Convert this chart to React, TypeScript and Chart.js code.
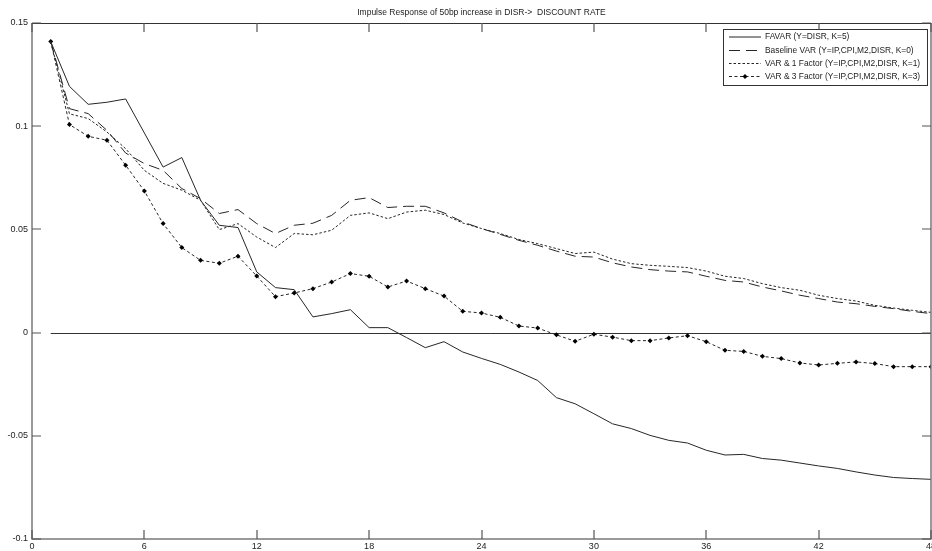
import React, { useEffect, useRef } from "react";
import { Chart, registerables } from "chart.js";

Chart.register(...registerables);

const TITLE = "Impulse Response of 50bp increase in DISR->  DISCOUNT RATE";

const months = [
  1, 2, 3, 4, 5, 6, 7, 8, 9, 10, 11, 12, 13, 14, 15, 16, 17, 18, 19, 20, 21, 22, 23, 24,
  25, 26, 27, 28, 29, 30, 31, 32, 33, 34, 35, 36, 37, 38, 39, 40, 41, 42, 43, 44, 45, 46, 47, 48,
];

const favar = [
  0.141, 0.1193, 0.1106, 0.1116, 0.1132, 0.0967, 0.0802, 0.0848, 0.0641, 0.052,
  0.0509, 0.0294, 0.0218, 0.0208, 0.0076, 0.0092, 0.0111, 0.0024, 0.0024, -0.0024,
  -0.0073, -0.0044, -0.0094, -0.0125, -0.0154, -0.0191, -0.0232, -0.0315, -0.0345, -0.0393,
  -0.0442, -0.0465, -0.0498, -0.0522, -0.0535, -0.057, -0.0593, -0.059, -0.061, -0.0618,
  -0.0632, -0.0646, -0.0658, -0.0675, -0.069, -0.0702, -0.0707, -0.0711,
];

const baselineVar = [
  0.141, 0.1085, 0.1061, 0.098, 0.087, 0.0819, 0.0786, 0.0698, 0.0649, 0.0577,
  0.0596, 0.0528, 0.048, 0.052, 0.053, 0.0568, 0.0641, 0.0654, 0.0606, 0.0612,
  0.0612, 0.058, 0.0536, 0.0504, 0.0476, 0.0447, 0.0423, 0.0395, 0.037, 0.0366,
  0.0338, 0.0318, 0.0305, 0.0298, 0.0294, 0.0273, 0.0253, 0.0245, 0.0221, 0.0202,
  0.0181, 0.0165, 0.0148, 0.014, 0.0127, 0.0116, 0.0103, 0.0092,
];

const var1Factor = [
  0.141, 0.106, 0.1037, 0.0972, 0.0891, 0.0786, 0.0723, 0.069, 0.0641, 0.0499,
  0.0528, 0.0463, 0.0412, 0.048, 0.0474, 0.0496, 0.0568, 0.058, 0.0552, 0.0584,
  0.0593, 0.0572, 0.0531, 0.0504, 0.048, 0.0451, 0.0431, 0.0407, 0.0383, 0.039,
  0.0356, 0.0334, 0.0326, 0.0321, 0.0315, 0.0298, 0.0273, 0.0262, 0.0237, 0.0218,
  0.0205, 0.0181, 0.0165, 0.0153, 0.0132, 0.0119, 0.0108, 0.0098,
];

const var3Factor = [
  0.141, 0.1008, 0.0951, 0.0932, 0.0811, 0.0686, 0.0528, 0.0412, 0.035, 0.0336,
  0.037, 0.0274, 0.0174, 0.0192, 0.0213, 0.0245, 0.0286, 0.0273, 0.0221, 0.025,
  0.0213, 0.0177, 0.0103, 0.0095, 0.0074, 0.0032, 0.0022, -0.0011, -0.0042, -0.0008,
  -0.0022, -0.0039, -0.0039, -0.0026, -0.0015, -0.0044, -0.0086, -0.0091, -0.0115, -0.0126,
  -0.0147, -0.0157, -0.0149, -0.0142, -0.015, -0.0165, -0.0165, -0.0165,
];

const seriesLabels = [
  "FAVAR (Y=DISR, K=5)",
  "Baseline VAR (Y=IP,CPI,M2,DISR, K=0)",
  "VAR & 1 Factor (Y=IP,CPI,M2,DISR, K=1)",
  "VAR & 3 Factor (Y=IP,CPI,M2,DISR, K=3)",
];

const xTickValues = [0, 6, 12, 18, 24, 30, 36, 42, 48];
const yTickValues = [-0.1, -0.05, 0, 0.05, 0.1, 0.15];
const zeroLineStart = 1;

const FONT = "'Liberation Sans', Arial, sans-serif";
const LINE = "#262626";

const framePlugin = {
  id: "frame",
  beforeDatasetsDraw(chart: any) {
    const { ctx, chartArea: a, scales } = chart;
    const x = scales.x;
    const y = scales.y;
    ctx.save();
    ctx.strokeStyle = "#333";
    ctx.lineWidth = 1;
    ctx.beginPath();
    const y0 = Math.round(y.getPixelForValue(0)) + 0.5;
    ctx.moveTo(x.getPixelForValue(zeroLineStart), y0);
    ctx.lineTo(a.right, y0);
    ctx.stroke();
    ctx.restore();
  },
  afterDatasetsDraw(chart: any) {
    const { ctx, chartArea: a, scales } = chart;
    const x = scales.x;
    const y = scales.y;
    const tl = 9;
    ctx.save();
    ctx.lineWidth = 1.5;
    ctx.strokeStyle = "#7a7a7a";
    ctx.beginPath();
    ctx.moveTo(a.left, a.top);
    ctx.lineTo(a.left, a.bottom);
    ctx.lineTo(a.right, a.bottom);
    ctx.lineTo(a.right, a.top);
    ctx.stroke();
    ctx.lineWidth = 1;
    ctx.strokeStyle = "#333";
    ctx.beginPath();
    ctx.moveTo(a.left, a.top + 0.5);
    ctx.lineTo(a.right, a.top + 0.5);
    ctx.stroke();
    ctx.strokeStyle = "#555";
    ctx.lineWidth = 1.2;
    ctx.beginPath();
    xTickValues.forEach((v) => {
      const px = Math.round(x.getPixelForValue(v));
      ctx.moveTo(px, a.bottom);
      ctx.lineTo(px, a.bottom - tl);
      ctx.moveTo(px, a.top);
      ctx.lineTo(px, a.top + tl);
    });
    yTickValues.forEach((v) => {
      const py = Math.round(y.getPixelForValue(v));
      ctx.moveTo(a.left, py);
      ctx.lineTo(a.left + tl, py);
      ctx.moveTo(a.right, py);
      ctx.lineTo(a.right - tl, py);
    });
    ctx.stroke();
    ctx.restore();
  },
};

const legendPlugin = {
  id: "boxLegend",
  afterDraw(chart: any) {
    const { ctx } = chart;
    const bx = 723;
    const by = 29;
    const bw = 204;
    const bh = 56;
    ctx.save();
    ctx.fillStyle = "#fff";
    ctx.fillRect(bx, by, bw, bh);
    ctx.strokeStyle = "#333";
    ctx.lineWidth = 1;
    ctx.strokeRect(bx + 0.5, by + 0.5, bw, bh);
    ctx.font = `8.4px ${FONT}`;
    ctx.textBaseline = "middle";
    ctx.textAlign = "left";
    const rows = [37, 50.5, 63.5, 76.5];
    chart.data.datasets.forEach((ds: any, i: number) => {
      const ry = rows[i];
      ctx.strokeStyle = ds.borderColor;
      ctx.lineWidth = ds.borderWidth;
      ctx.setLineDash(ds.borderDash || []);
      ctx.beginPath();
      ctx.moveTo(729, ry);
      ctx.lineTo(761, ry);
      ctx.stroke();
      ctx.setLineDash([]);
      if (ds.pointRadius > 0) {
        ctx.fillStyle = "#000";
        ctx.beginPath();
        ctx.moveTo(745, ry - 2.5);
        ctx.lineTo(747.5, ry);
        ctx.lineTo(745, ry + 2.5);
        ctx.lineTo(742.5, ry);
        ctx.closePath();
        ctx.fill();
      }
      ctx.fillStyle = "#222";
      ctx.fillText(ds.label, 765, ry);
    });
    ctx.restore();
  },
};

const toPoints = (vals: number[]) => months.map((m, i) => ({ x: m, y: vals[i] }));

export default function App() {
  const ref = useRef<HTMLCanvasElement | null>(null);
  useEffect(() => {
    document.body.style.margin = "0";
    const canvas = ref.current!;
    const chart = new Chart(canvas, {
      type: "line",
      data: {
        datasets: [
          {
            label: seriesLabels[0],
            data: toPoints(favar),
            borderColor: LINE,
            borderWidth: 1,
            pointRadius: 0,
            tension: 0,
          },
          {
            label: seriesLabels[1],
            data: toPoints(baselineVar),
            borderColor: LINE,
            borderWidth: 1,
            borderDash: [11, 6],
            pointRadius: 0,
            tension: 0,
          },
          {
            label: seriesLabels[2],
            data: toPoints(var1Factor),
            borderColor: LINE,
            borderWidth: 1,
            borderDash: [2.5, 2],
            pointRadius: 0,
            tension: 0,
          },
          {
            label: seriesLabels[3],
            data: toPoints(var3Factor),
            borderColor: LINE,
            borderWidth: 1,
            borderDash: [3, 2.5],
            pointRadius: 2.5,
            pointStyle: "rectRot",
            pointBackgroundColor: "#000",
            pointBorderColor: "#000",
            pointBorderWidth: 0,
            tension: 0,
          },
        ],
      },
      options: {
        animation: false,
        responsive: false,
        devicePixelRatio: 1,
        layout: { autoPadding: false, padding: { left: 0, right: 1, top: 0, bottom: 0 } },
        plugins: {
          legend: { display: false },
          tooltip: { enabled: false },
          title: {
            display: true,
            text: TITLE,
            fullSize: false,
            color: "#222",
            font: { family: FONT, size: 8.5, weight: "normal", lineHeight: 1.2 },
            padding: { top: 8, bottom: 4.8 },
          },
        },
        scales: {
          x: {
            type: "linear",
            min: 0,
            max: 48,
            afterBuildTicks: (s: any) => {
              s.ticks = xTickValues.map((v) => ({ value: v }));
            },
            afterFit: (s: any) => {
              s.height = 12;
              s.paddingLeft = 0;
              s.paddingRight = 0;
              s.paddingTop = 0;
              s.paddingBottom = 0;
            },
            grid: { display: false, drawTicks: false },
            border: { display: false },
            ticks: {
              autoSkip: false,
              maxRotation: 0,
              padding: 2,
              color: "#222",
              font: { family: FONT, size: 9 },
              callback: (v: any) => String(v),
            },
          },
          y: {
            type: "linear",
            min: -0.1,
            max: 0.15,
            afterBuildTicks: (s: any) => {
              s.ticks = yTickValues.map((v) => ({ value: v }));
            },
            afterFit: (s: any) => {
              s.width = 32;
              s.paddingLeft = 0;
              s.paddingRight = 0;
              s.paddingTop = 0;
              s.paddingBottom = 0;
            },
            grid: { display: false, drawTicks: false },
            border: { display: false },
            ticks: {
              padding: 4,
              color: "#222",
              font: { family: FONT, size: 9 },
              callback: (v: any) => String(+Number(v).toFixed(2)),
            },
          },
        },
      },
      plugins: [framePlugin, legendPlugin],
    });
    return () => chart.destroy();
  }, []);
  return (
    <div style={{ position: "absolute", left: 0, top: 0, width: 932, height: 551, background: "#fff" }}>
      <canvas ref={ref} width={932} height={551} />
    </div>
  );
}
